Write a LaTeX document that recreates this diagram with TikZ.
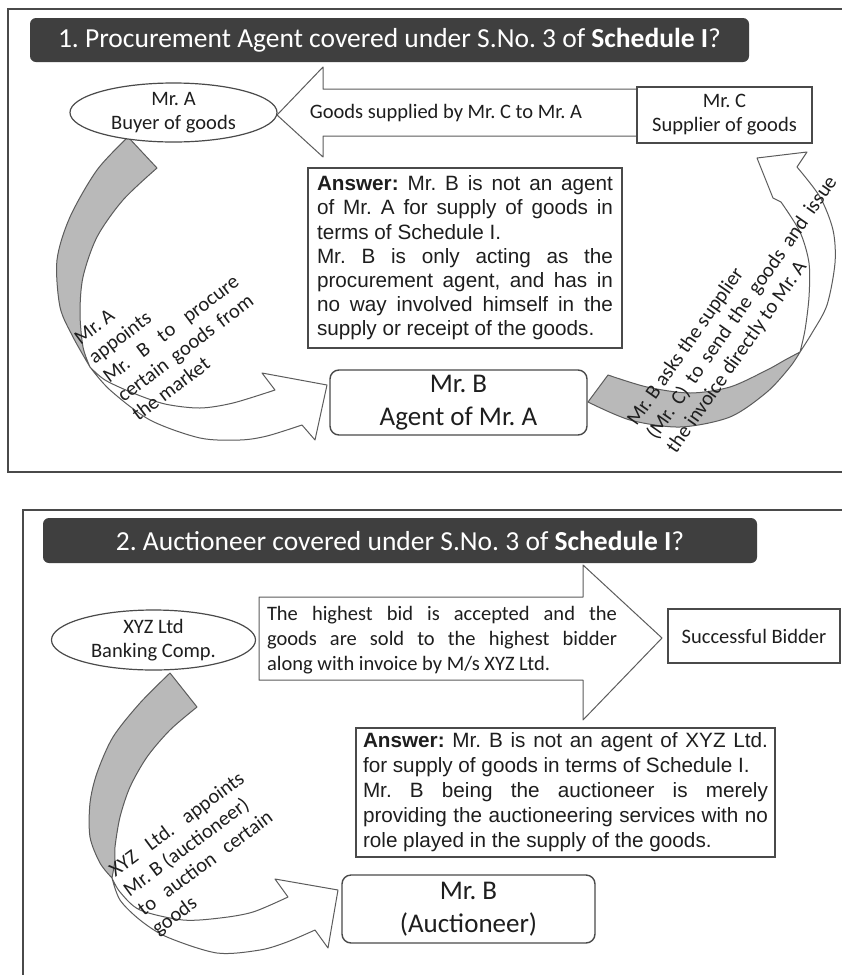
\documentclass[tikz,border=0pt]{standalone}
\usepackage{fontspec}
\setmainfont{Carlito}
\newfontfamily\arialf{Liberation Sans}
\usetikzlibrary{shapes.geometric}
\definecolor{titlebg}{HTML}{3F3F3F}
\definecolor{lineg}{HTML}{4A4A4A}
\definecolor{bandg}{HTML}{B9B9B9}
\definecolor{txt}{HTML}{1E1E1E}
\newcommand\resetsp{\spaceskip=0pt\xspaceskip=0pt\relax}
\newcommand\jl[2]{\makebox[#1][s]{\resetsp#2}}
\frenchspacing
\begin{document}
\frenchspacing
\begin{tikzpicture}[x=1pt,y=-1pt,
  frame/.style={draw=lineg, line width=2pt},
  titlebar/.style={fill=titlebg, rounded corners=6pt, text=white, inner sep=0pt,
    font=\fontsize{27.5}{30}\selectfont},
  box/.style={draw=lineg, line width=1.4pt, fill=white, inner sep=0pt, text=txt},
  rbox/.style={box, rounded corners=9pt, align=center, font=\fontsize{27}{33.5}\selectfont},
  oval/.style={ellipse, draw=lineg, line width=1.2pt, fill=white, inner sep=0pt},
  cal/.style={font=\fontsize{20.5}{24}\selectfont, text=txt},
  ari/.style={font=\arialf\fontsize{20.7}{24.2}\selectfont, text=txt},
  bandline/.style={draw=lineg!90, line width=1pt, line join=round},
  rtext/.style={cal, inner sep=0pt, align=left, font=\fontsize{20.5}{24}\selectfont}
]
\useasboundingbox (0,0) rectangle (842,975);
\fill[white] (0,0) rectangle (842,975);

% ---------- panel 1 ----------
\draw[frame] (860,9) -- (8,9) -- (8,472) -- (860,472);
\node[titlebar, minimum width=719pt, minimum height=44pt] (t1) at (389.5,40)
  {1. Procurement Agent covered under S.No. 3 of \textbf{Schedule I}?};

% big left arrow
\filldraw[bandline, fill=white] (637,89) -- (323,89) -- (323,67) -- (277,115)
  -- (323,157) -- (323,136) -- (637,136) -- cycle;
\node[cal] (gs) at (446,113) {Goods supplied by Mr. C to Mr. A};

% left curved arrow (A -> B)
\filldraw[bandline, fill=bandg]
  plot[smooth] coordinates {(128,137) (97,170) (70,217) (57,260) (60,307) (73,337) (90,367)}
  -- plot[smooth] coordinates {(90,367) (83,347) (80,313) (83,277) (97,237) (123,200) (157,168)}
  -- cycle;
\filldraw[bandline, fill=white]
  plot[smooth] coordinates {(90,367) (110,390) (150,420) (200,438) (240,440) (267,436) (302,425)}
  -- (315,440) -- (327,385) -- (262,373) -- (275,390)
  -- plot[smooth] coordinates {(275,390) (233,403) (200,408) (165,404) (133,393) (105,380) (90,367)}
  -- cycle;

% right curved arrow (B -> C)
\filldraw[bandline, fill=bandg]
  plot[smooth] coordinates {(588,402) (630,420) (680,427) (730,417) (767,392) (790,367) (800,352)}
  -- plot[smooth] coordinates {(800,352) (785,360) (767,370) (730,387) (690,393) (647,387) (608,375)}
  -- cycle;
\filldraw[bandline, fill=white]
  plot[smooth] coordinates {(800,352) (812,333) (827,305) (835,263) (833,230) (820,197) (797,167)}
  -- (807,152) -- (757,158) -- (773,198) -- (781,202)
  -- plot[smooth] coordinates {(781,202) (800,232) (809,263) (809,297) (805,330) (800,352)}
  -- cycle;

\node[oval, minimum width=207pt, minimum height=59pt,
  label={[cal, align=center]center:\resetsp Mr. A\\Buyer of goods}] (mra) at (173.5,112.5) {};
\node[box, minimum width=175pt, minimum height=56pt, align=center, cal] (mrc) at (724.5,115)
  {\resetsp Mr. C\\Supplier of goods};
\node[box, ari, text width=296pt, inner xsep=9pt, minimum height=180pt, align=left] (ans1) at (465,258)
  {\resetsp
   \jl{296pt}{\textbf{Answer:} Mr. B is not an agent}\\
   \jl{296pt}{of Mr. A for supply of goods in}\\
   terms of Schedule I.\\
   \jl{296pt}{Mr. B is only acting as the}\\
   \jl{296pt}{procurement agent, and has in}\\
   \jl{296pt}{no way involved himself in the}\\
   supply or receipt of the goods.};
\node[rbox, minimum width=257pt, minimum height=65pt] (mrb) at (458.5,402.5) {\resetsp Mr. B\\Agent of Mr. A};

\node[rtext, text width=164pt, rotate=37] (lt1) at (171,329)
  {\resetsp Mr. A\\appoints\\\jl{164pt}{Mr. B to procure}\\\jl{164pt}{certain goods from}\\the market};
\node[rtext, text width=316pt, rotate=55] (rt1) at (742.5,308)
  {\resetsp Mr. B asks the supplier\\\jl{316pt}{(Mr. C) to send the goods and issue}\\the invoice directly to Mr. A};

% ---------- panel 2 ----------
\draw[frame] (860,510) -- (23,510) -- (23,990);
\node[titlebar, minimum width=714pt, minimum height=45pt] (t2) at (400,540.5)
  {2. Auctioneer covered under S.No. 3 of \textbf{Schedule I}?};

\filldraw[bandline, fill=white] (259,597) -- (583,597) -- (583,565) -- (662,638)
  -- (583,720) -- (583,680) -- (259,680) -- cycle;
\node[cal, text width=350pt, align=left, inner sep=0pt, font=\fontsize{20.5}{25}\selectfont] (hb) at (442,640)
  {\resetsp
   \jl{350pt}{The highest bid is accepted and the}\\
   \jl{350pt}{goods are sold to the highest bidder}\\
   along with invoice by M/s XYZ Ltd.};

\filldraw[bandline, fill=bandg]
  plot[smooth] coordinates {(170,673) (140,703) (113,737) (97,773) (90,803) (90,837) (100,863) (112,878)}
  -- plot[smooth] coordinates {(112,878) (115,860) (115,847) (120,817) (130,787) (147,757) (170,730) (197,707)}
  -- cycle;
\filldraw[bandline, fill=white]
  plot[smooth] coordinates {(112,878) (120,900) (140,920) (167,937) (217,953) (260,950) (287,942) (315,930)}
  -- (328,948) -- (338,890) -- (275,879) -- (288,897)
  -- plot[smooth] coordinates {(288,897) (253,912) (220,918) (183,920) (140,910) (120,892) (112,878)}
  -- cycle;

\node[oval, minimum width=204pt, minimum height=60pt,
  label={[cal, align=center]center:\resetsp XYZ Ltd\\Banking Comp.}] (xyz) at (153.5,640) {};
\node[box, minimum width=172pt, minimum height=54pt, cal] (sb) at (754,636) {Successful Bidder};
\node[box, ari, text width=405pt, inner xsep=7pt, minimum height=129pt, align=left,
  font=\arialf\fontsize{20.7}{25}\selectfont] (ans2) at (565.5,792.5)
  {\resetsp
   \jl{405pt}{\textbf{Answer:} Mr. B is not an agent of XYZ Ltd.}\\
   for supply of goods in terms of Schedule I.\\
   \jl{405pt}{Mr. B being the auctioneer is merely}\\
   \jl{405pt}{providing the auctioneering services with no}\\
   role played in the supply of the goods.};
\node[rbox, minimum width=253pt, minimum height=68pt] (mrb2) at (468.5,909) {\resetsp Mr. B\\(Auctioneer)};

\node[rtext, text width=162pt, rotate=36.5] (lt2) at (198.7,854.3)
  {\resetsp\jl{162pt}{XYZ Ltd. appoints}\\Mr. B (auctioneer)\\\jl{162pt}{to auction certain}\\goods};
\end{tikzpicture}
\end{document}
